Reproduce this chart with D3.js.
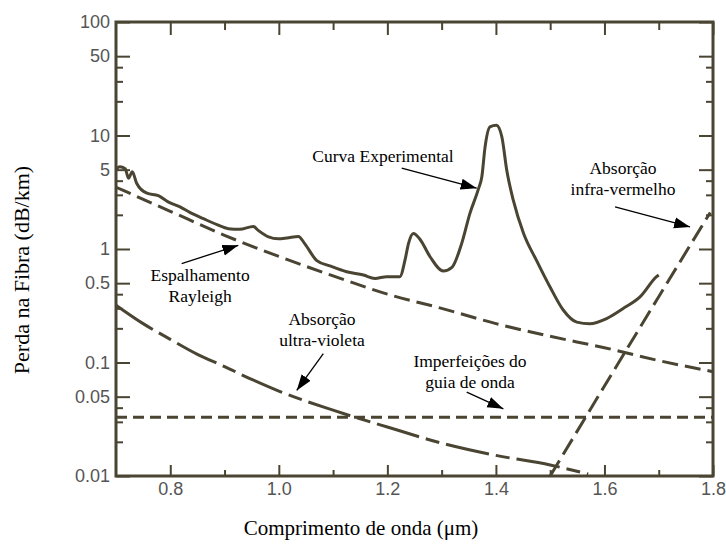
<!DOCTYPE html>
<html>
<head>
<meta charset="utf-8">
<script src="https://cdnjs.cloudflare.com/ajax/libs/d3/7.8.5/d3.min.js"></script>
<style>
  body { margin: 0; background: #fff; }
</style>
</head>
<body>
<div id="chart"></div>
<script>
// Values: wavelength in um, loss in dB/km
var expWave = [0.700, 0.707, 0.717, 0.723, 0.730, 0.738, 0.757, 0.778, 0.796, 0.818,
  0.836, 0.861, 0.886, 0.907, 0.928, 0.953, 0.962, 0.981, 0.999, 1.015,
  1.036, 1.048, 1.070, 1.094, 1.125, 1.156, 1.177, 1.199, 1.223, 1.233,
  1.239, 1.248, 1.260, 1.279, 1.303, 1.319, 1.337, 1.352, 1.368, 1.374,
  1.380, 1.389, 1.401, 1.411, 1.420, 1.432, 1.451, 1.475, 1.500, 1.524,
  1.549, 1.573, 1.604, 1.635, 1.666, 1.696, 1.700];
var expLoss = [5.0, 5.3, 5.1, 4.2, 4.8, 3.8, 3.1, 2.95, 2.6, 2.35,
  2.1, 1.85, 1.64, 1.51, 1.49, 1.58, 1.46, 1.28, 1.23, 1.25,
  1.29, 1.11, 0.79, 0.71, 0.63, 0.59, 0.55, 0.57, 0.57, 0.82,
  1.12, 1.37, 1.22, 0.85, 0.64, 0.69, 1.12, 2.05, 3.4, 4.3,
  7.9, 11.9, 12.3, 9.7, 4.94, 2.69, 1.37, 0.79, 0.46, 0.29,
  0.227, 0.22, 0.244, 0.30, 0.38, 0.57, 0.59];

var rayWave = [0.7, 0.8, 0.9, 1.0, 1.1, 1.2, 1.3, 1.4, 1.5, 1.6, 1.7, 1.8];
var rayLoss = [3.5, 2.15, 1.32, 0.86, 0.58, 0.40, 0.30, 0.22, 0.17, 0.135, 0.104, 0.083];

var uvWave = [0.7, 0.75, 0.8, 0.85, 0.9, 0.95, 1.0, 1.1, 1.2, 1.3, 1.4, 1.5, 1.57];
var uvLoss = [0.32, 0.22, 0.16, 0.118, 0.092, 0.071, 0.056, 0.038, 0.027, 0.0195, 0.0152, 0.0125, 0.0104];

var guideWave = [0.7, 1.8];
var guideLoss = [0.033, 0.033];

var irWave = [1.5, 1.6, 1.7, 1.795];
var irLoss = [0.01, 0.062, 0.38, 2.1];

// Axis ticks
var xMajor = [0.8, 1.0, 1.2, 1.4, 1.6, 1.8];
var xMinor = [0.9, 1.1, 1.3, 1.5, 1.7];
var yMajor = [0.01, 0.05, 0.1, 0.5, 1, 5, 10, 50, 100];
var yMinor = [0.02, 0.03, 0.04, 0.2, 0.3, 0.4, 2, 3, 4, 20, 30, 40];

// Annotations: text lines, text anchor and arrow (from -> to), in data units
var notes = [
  { lines: ["Curva Experimental"], at: [1.192, 5.82], from: [1.2264, 5.15], to: [1.3646, 3.43] },
  { lines: ["Espalhamento", "Rayleigh"], at: [0.855, 0.519], from: [0.821, 0.744], to: [0.9254, 1.078] },
  { lines: ["Absorção", "ultra-violeta"], at: [1.0796, 0.2125], from: [1.082, 0.1196], to: [1.033, 0.0568] },
  { lines: ["Imperfeições do", "guia de onda"], at: [1.3523, 0.0905], from: [1.3462, 0.0548], to: [1.4137, 0.0391] },
  { lines: ["Absorção", "infra-vermelho"], at: [1.6342, 4.56], from: [1.6195, 2.346], to: [1.7577, 1.563] }
];

var ink = "#4a4432";
var margin = { top: 22, right: 13, bottom: 68, left: 116 };
var width = 726 - margin.left - margin.right;
var height = 544 - margin.top - margin.bottom;

var svg = d3.select("#chart")
  .append("svg")
  .attr("width", 726)
  .attr("height", 544)
  .style("font-family", "'Liberation Sans', Arial, sans-serif");

svg.append("defs").append("marker")
  .attr("id", "head")
  .attr("markerUnits", "userSpaceOnUse")
  .attr("viewBox", "-16 -6 17 12")
  .attr("refX", 0).attr("refY", 0)
  .attr("markerWidth", 17).attr("markerHeight", 12)
  .attr("orient", "auto")
  .append("path")
  .attr("d", "M0,0 L-16,-5.5 L-16,5.5 Z")
  .attr("fill", "#000");

var g = svg.append("g")
  .attr("transform", "translate(" + margin.left + "," + margin.top + ")");

var x = d3.scaleLinear().domain([0.7, 1.8]).range([0, width]);
var y = d3.scaleLog().domain([0.01, 100]).range([height, 0]);

function fmtY(d) {
  return d < 1 ? String(d) : d3.format("d")(d);
}

// Axes with inward ticks
function styleAxis(sel) {
  sel.select(".domain").remove();
  sel.selectAll("line").attr("stroke", ink).attr("stroke-width", 2);
  sel.selectAll("text").attr("fill", "#555").style("font-size", "18px");
}

g.append("g").attr("transform", "translate(0," + height + ")")
  .call(d3.axisBottom(x).tickValues(xMajor).tickFormat(d3.format(".1f")).tickSizeInner(-11).tickSizeOuter(0).tickPadding(6))
  .call(styleAxis);
g.append("g").attr("transform", "translate(0," + height + ")")
  .call(d3.axisBottom(x).tickValues(xMinor).tickFormat("").tickSizeInner(-6).tickSizeOuter(0))
  .call(styleAxis);
g.append("g")
  .call(d3.axisTop(x).tickValues(xMajor).tickFormat("").tickSizeInner(-13).tickSizeOuter(0))
  .call(styleAxis);
g.append("g")
  .call(d3.axisTop(x).tickValues(xMinor).tickFormat("").tickSizeInner(-8).tickSizeOuter(0))
  .call(styleAxis);

g.append("g")
  .call(d3.axisLeft(y).tickValues(yMajor).tickFormat(fmtY).tickSizeInner(-14).tickSizeOuter(0).tickPadding(6))
  .call(styleAxis);
g.append("g")
  .call(d3.axisLeft(y).tickValues(yMinor).tickFormat("").tickSizeInner(-7).tickSizeOuter(0))
  .call(styleAxis);
g.append("g").attr("transform", "translate(" + width + ",0)")
  .call(d3.axisRight(y).tickValues(yMajor).tickFormat("").tickSizeInner(-14).tickSizeOuter(0))
  .call(styleAxis);
g.append("g").attr("transform", "translate(" + width + ",0)")
  .call(d3.axisRight(y).tickValues(yMinor).tickFormat("").tickSizeInner(-7).tickSizeOuter(0))
  .call(styleAxis);

// Frame
g.append("rect")
  .attr("width", width)
  .attr("height", height)
  .attr("fill", "none")
  .attr("stroke", ink)
  .attr("stroke-width", 3);

// Curves
function pairs(xs, ys) {
  return xs.map(function (d, i) { return [d, ys[i]]; });
}
var line = d3.line()
  .x(function (d) { return x(d[0]); })
  .y(function (d) { return y(d[1]); })
  .curve(d3.curveMonotoneX);

var series = [
  { data: pairs(rayWave, rayLoss), dash: "16,7" },
  { data: pairs(uvWave, uvLoss), dash: "44,7,14,7" },
  { data: pairs(guideWave, guideLoss), dash: "11,6" },
  { data: pairs(irWave, irLoss), dash: "18,7" },
  { data: pairs(expWave, expLoss), dash: null }
];

g.selectAll("path.curve")
  .data(series)
  .enter()
  .append("path")
  .attr("class", "curve")
  .attr("d", function (d) { return line(d.data); })
  .attr("fill", "none")
  .attr("stroke", ink)
  .attr("stroke-width", 3)
  .attr("stroke-linejoin", "round")
  .attr("stroke-dasharray", function (d) { return d.dash; });

// Annotations
notes.forEach(function (n) {
  g.append("line")
    .attr("x1", x(n.from[0])).attr("y1", y(n.from[1]))
    .attr("x2", x(n.to[0])).attr("y2", y(n.to[1]))
    .attr("stroke", "#000")
    .attr("stroke-width", 1.3)
    .attr("marker-end", "url(#head)");
  var t = g.append("text")
    .attr("x", x(n.at[0]))
    .attr("y", y(n.at[1]))
    .attr("text-anchor", "middle")
    .style("font-family", "'Liberation Serif', 'Times New Roman', serif")
    .style("font-size", "17.5px")
    .attr("fill", "#000");
  n.lines.forEach(function (s, i) {
    t.append("tspan")
      .attr("x", x(n.at[0]))
      .attr("dy", i === 0 ? 0 : 21)
      .text(s);
  });
});

// Axis titles
svg.append("text")
  .attr("x", 361)
  .attr("y", 535)
  .attr("text-anchor", "middle")
  .style("font-family", "'Liberation Serif', 'Times New Roman', serif")
  .style("font-size", "21px")
  .text("Comprimento de onda (μm)");

svg.append("text")
  .attr("transform", "translate(29,270) rotate(-90)")
  .attr("text-anchor", "middle")
  .style("font-family", "'Liberation Serif', 'Times New Roman', serif")
  .style("font-size", "22px")
  .text("Perda na Fibra (dB/km)");
</script>
</body>
</html>
